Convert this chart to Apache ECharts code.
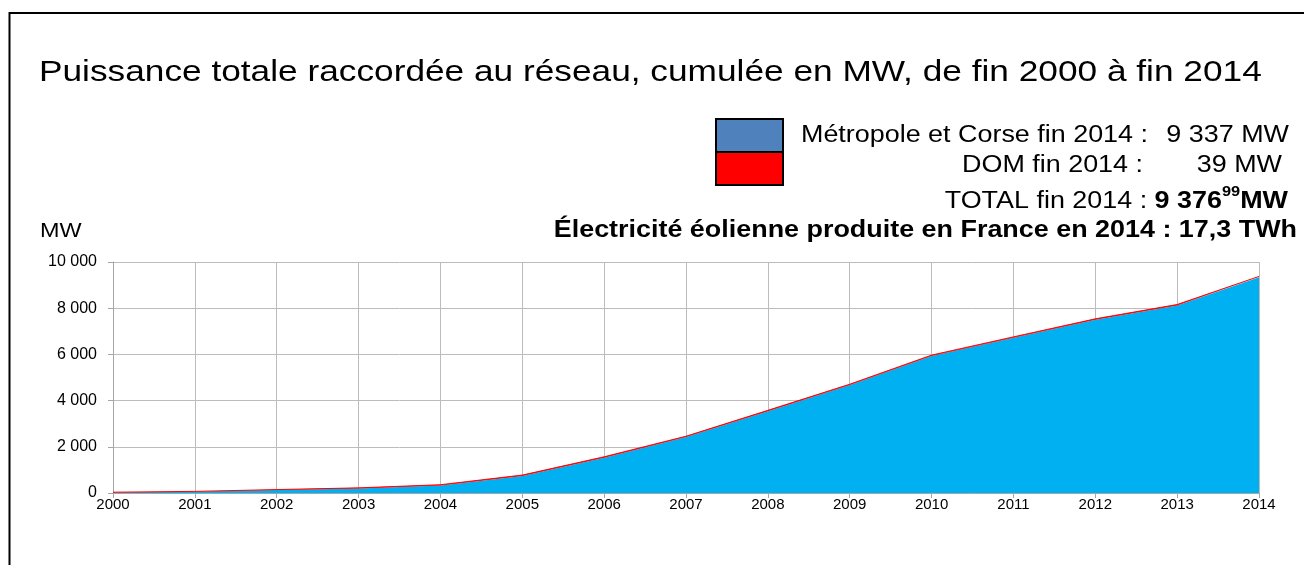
<!DOCTYPE html>
<html><head><meta charset="utf-8">
<script src="https://cdn.jsdelivr.net/npm/echarts@6/dist/echarts.min.js"></script>
<style>html,body{margin:0;padding:0;background:#fff}#c{width:1304px;height:565px}</style>
</head><body><div id="c"></div>
<script>
const years = ['2000','2001','2002','2003','2004','2005','2006','2007','2008','2009','2010','2011','2012','2013','2014'];
const metropole = [30, 60, 130, 200, 330, 740, 1530, 2420, 3540, 4670, 5930, 6720, 7500, 8120, 9337];
const dom = [5, 10, 18, 22, 28, 35, 37, 37, 37, 38, 38, 38, 38, 39, 39];
const yTicks = [0, 2000, 4000, 6000, 8000, 10000];

const F = 'Liberation Sans, Arial, sans-serif';
const SX = 1.17;
const chart = echarts.init(document.getElementById('c'));
function fmt(v){ return String(v).replace(/\B(?=(\d{3})+(?!\d))/g, ' '); }
function txt(x, y, text, font, align){
  return { type: 'text', x: x, y: y, scaleX: SX, style: { text: text, font: font, fill: '#000', align: align || 'right', verticalAlign: 'middle' } };
}
chart.setOption({
  animation: false,
  grid: { left: 113, right: 45, top: 262, bottom: 72 },
  xAxis: { type: 'category', data: years, boundaryGap: false,
    axisLine: { lineStyle: { color: '#a6a6a6' } },
    axisTick: { show: true, length: 5, lineStyle: { color: '#a6a6a6' } },
    axisLabel: { fontFamily: F, fontSize: 15, color: '#000', margin: 4 },
    splitLine: { show: true, lineStyle: { color: '#bcbcbc', width: 1 } } },
  yAxis: { type: 'value', min: 0, max: 10000, interval: 2000,
    axisLine: { show: true, lineStyle: { color: '#a6a6a6' } },
    axisTick: { show: true, length: 5, lineStyle: { color: '#a6a6a6' } },
    axisLabel: { fontFamily: F, fontSize: 16, color: '#000', margin: 16, formatter: v => fmt(v) },
    splitLine: { show: true, lineStyle: { color: '#bcbcbc', width: 1 } } },
  series: [
    { name: 'Métropole et Corse', type: 'line', stack: 'tot', data: metropole, symbol: 'none',
      lineStyle: { width: 0 }, areaStyle: { color: '#00b0f0', opacity: 1 } },
    { name: 'DOM', type: 'line', stack: 'tot', data: dom, symbol: 'none',
      lineStyle: { width: 1, color: '#ff0000' }, areaStyle: { color: '#ff0000', opacity: 1 } }
  ],
  graphic: [
    { type: 'rect', shape: { x: 9.5, y: 13, width: 1400, height: 700 }, style: { fill: 'none', stroke: '#000', lineWidth: 2 }, silent: true },
    { type: 'rect', shape: { x: 716, y: 119, width: 67, height: 33 }, style: { fill: '#4f81bd', stroke: '#000', lineWidth: 2 } },
    { type: 'rect', shape: { x: 716, y: 152, width: 67, height: 33 }, style: { fill: '#ff0000', stroke: '#000', lineWidth: 2 } },
    { type: 'text', x: 39, y: 73, scaleX: 1.175, style: { text: 'Puissance totale raccordée au réseau, cumulée en MW, de fin 2000 à fin 2014', font: '30px ' + F, fill: '#000', align: 'left', verticalAlign: 'middle' } },
    txt(1148, 136, 'Métropole et Corse fin 2014 :', '23px ' + F),
    txt(1289, 136, '9 337 MW', '23px ' + F),
    txt(1143, 166, 'DOM fin 2014 :', '23px ' + F),
    txt(1282, 166, '39 MW', '23px ' + F),
    { type: 'text', x: 1288, y: 199, scaleX: SX, style: {
        text: '{n|TOTAL fin 2014 : }{b|9 376}{s|99}{b|MW}', align: 'right', verticalAlign: 'middle',
        rich: {
          n: { fontFamily: F, fontSize: 23, color: '#000', verticalAlign: 'bottom', lineHeight: 28 },
          b: { fontFamily: F, fontSize: 23, fontWeight: 'bold', color: '#000', verticalAlign: 'bottom', lineHeight: 28 },
          s: { fontFamily: F, fontSize: 14, fontWeight: 'bold', color: '#000', verticalAlign: 'top', lineHeight: 28 }
        } } },
    txt(1297, 231, 'Électricité éolienne produite en France en 2014 : 17,3 TWh', 'bold 23px ' + F),
    txt(40, 231, 'MW', '20px ' + F, 'left')
  ]
});
</script></body></html>
